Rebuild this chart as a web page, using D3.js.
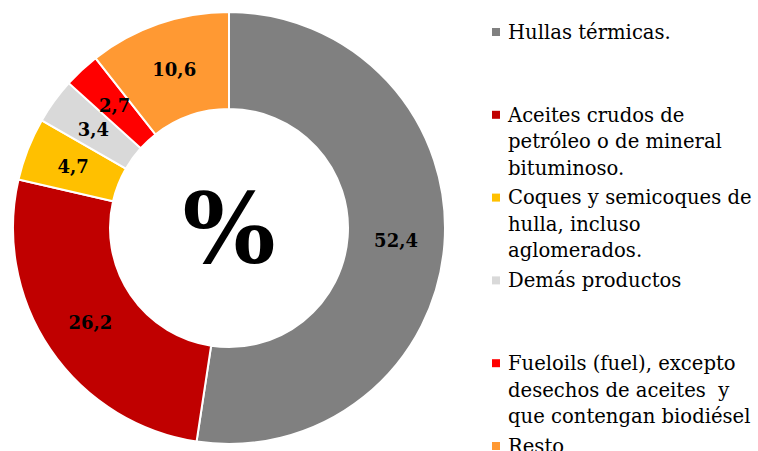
<!DOCTYPE html>
<html>
<head>
<meta charset="utf-8">
<script src="https://cdn.jsdelivr.net/npm/d3@7"></script>
<style>
  body { margin: 0; background: #fff; }
  svg { display: block; }
</style>
</head>
<body>
<svg></svg>
<script>
// datos del gráfico
let categories = [
    ['Hullas térmicas.'],
    ['Aceites crudos de', 'petróleo o de mineral', 'bituminoso.'],
    ['Coques y semicoques de', 'hulla, incluso', 'aglomerados.'],
    ['Demás productos'],
    ['Fueloils (fuel), excepto', 'desechos de aceites  y', 'que contengan biodiésel'],
    ['Resto']
]
let values = [52.4, 26.2, 4.7, 3.4, 2.7, 10.6]
let colors = ['#808080', '#C00000', '#FFC000', '#D9D9D9', '#FF0000', '#FF9933']

let width = 758
let height = 451
let cx = 229
let cy = 228
let outerR = 216
let innerR = 119

let fontFam = "'DejaVu Serif', 'Liberation Serif', serif"

let svg = d3.select('svg')
    .attr('width', width)
    .attr('height', height)

let pie = d3.pie().sort(null).value((d) => d)
let arc = d3.arc().innerRadius(innerR).outerRadius(outerR)

let g = svg.append('g')
    .attr('transform', 'translate(' + cx + ',' + cy + ')')

let arcs = pie(values)

g.selectAll('path')
    .data(arcs)
    .enter()
    .append('path')
    .attr('d', arc)
    .attr('fill', (d, i) => colors[i])
    .attr('stroke', '#fff')
    .attr('stroke-width', 2)

// etiquetas de valores
g.selectAll('text.val')
    .data(arcs)
    .enter()
    .append('text')
    .attr('class', 'val')
    .attr('transform', (d) => 'translate(' + arc.centroid(d) + ')')
    .attr('text-anchor', 'middle')
    .attr('dy', '0.36em')
    .style('font-family', fontFam)
    .style('font-weight', 'bold')
    .style('font-size', '18px')
    .text((d) => d3.format('.1f')(d.value).replace('.', ','))

// símbolo central
g.append('text')
    .attr('text-anchor', 'middle')
    .attr('dy', '0.36em')
    .style('font-family', fontFam)
    .style('font-weight', 'bold')
    .style('font-size', '98px')
    .text('%')

// leyenda
let legendY = d3.scaleLinear().domain([0, 5]).range([32, 446])
let lineH = 26.5

let legend = svg.selectAll('g.legend')
    .data(categories)
    .enter()
    .append('g')
    .attr('class', 'legend')
    .attr('transform', (d, i) => 'translate(492,' + legendY(i) + ')')

legend.append('rect')
    .attr('x', 0)
    .attr('y', -4)
    .attr('width', 8)
    .attr('height', 8)
    .attr('fill', (d, i) => colors[i])

legend.each(function (lines) {
    let t = d3.select(this).append('text')
        .style('font-family', fontFam)
        .style('font-size', '19.6px')
        .attr('fill', '#000')
    lines.forEach((line, j) => {
        t.append('tspan')
            .attr('x', 16)
            .attr('y', j * lineH)
            .attr('dy', '0.35em')
            .style('white-space', 'pre')
            .text(line)
    })
})
</script>
</body>
</html>
